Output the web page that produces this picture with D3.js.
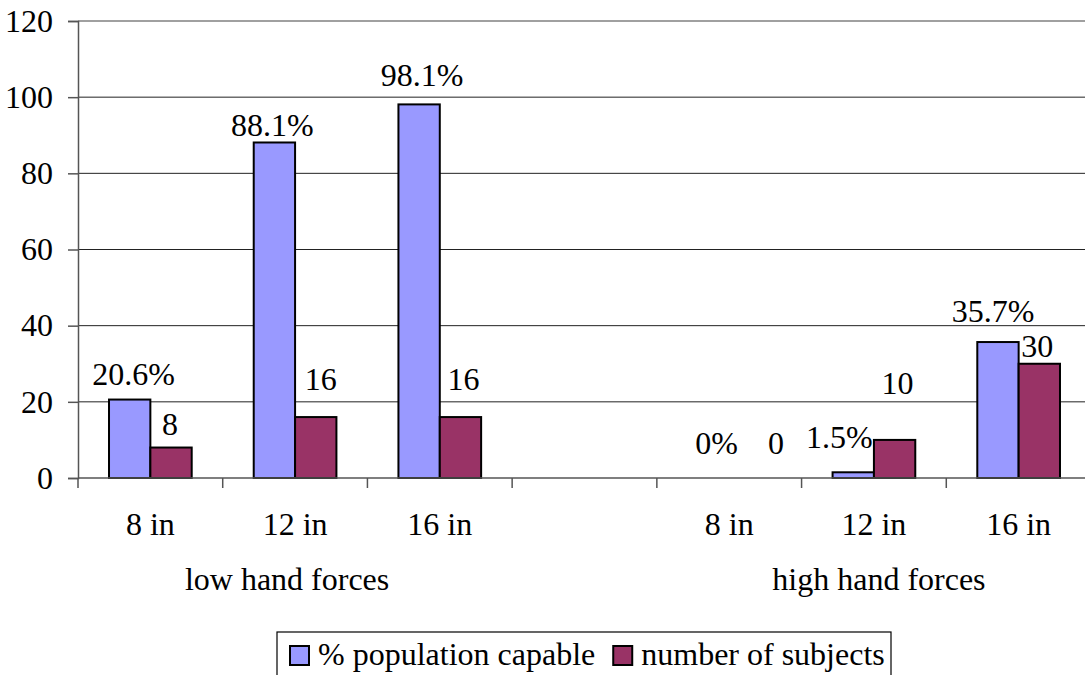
<!DOCTYPE html>
<html>
<head>
<meta charset="utf-8">
<script src="https://cdn.jsdelivr.net/npm/d3@7"></script>
<style>
  html, body { margin: 0; padding: 0; background: #fff; }
  svg { display: block; }
</style>
</head>
<body>
<script>
// ---- data ----
const categories = ["8 in", "12 in", "16 in", "", "8 in", "12 in", "16 in"];
const groupLabels = ["low hand forces", "high hand forces"];
const groupOf = [0, 0, 0, null, 1, 1, 1];
const seriesNames = ["% population capable", "number of subjects"];
const pctCapable = [20.6, 88.1, 98.1, null, 0, 1.5, 35.7];
const numSubjects = [8, 16, 16, null, 0, 10, 30];
const pctLabels = ["20.6%", "88.1%", "98.1%", null, "0%", "1.5%", "35.7%"];
const numLabels = ["8", "16", "16", null, "0", "10", "30"];
const yTicks = [0, 20, 40, 60, 80, 100, 120];

// ---- label nudges (style, px) ----
const pctNudgeX = [4, -2, 3, 0, 8, -14, -5];
const pctGap = [15, 6, 18, 0, 24, 24, 20];
const numNudgeX = [-1, 5, 3, 0, 26, 3, -2];
const numGap = [13, 27, 27, 0, 24, 46, 7];
const groupNudgeX = [-8, 5];

(function () {
const colors = ["#9999FF", "#993366"];
const W = 1085, H = 675;
const mLeft = 78, mRight = 1091, mTop = 21, mBottom = 478;
const fontSize = 32;
const FONT = "Liberation Serif";

const svg = d3.select("body").append("svg").attr("width", W).attr("height", H);

function styleText(sel) {
  return sel.attr("font-family", FONT).attr("font-size", fontSize)
    .style("font-family", FONT).style("font-size", fontSize + "px").attr("fill", "#000");
}

const x = d3.scaleBand().domain(d3.range(categories.length)).range([mLeft, mRight]).padding(0);
const x1 = d3.scaleBand().domain([0, 1]).range([0, x.bandwidth()]).paddingInner(0).paddingOuter(0.75);
const y = d3.scaleLinear().domain([0, 120]).range([mBottom, mTop]);

// gridlines
svg.append("g").selectAll("line").data(yTicks.filter(t => t > 0 && t < 120)).join("line")
  .attr("x1", mLeft).attr("x2", mRight)
  .attr("y1", d => y(d)).attr("y2", d => y(d))
  .attr("stroke", "#222").attr("stroke-width", 1);

// plot border top / right
svg.append("line").attr("x1", mLeft).attr("x2", mRight).attr("y1", y(120)).attr("y2", y(120))
  .attr("stroke", "#808080").attr("stroke-width", 1.5);
svg.append("line").attr("x1", mRight).attr("x2", mRight).attr("y1", y(120)).attr("y2", y(0))
  .attr("stroke", "#808080").attr("stroke-width", 1.5);

// y axis
const yAxis = d3.axisLeft(y).tickValues(yTicks).tickSize(10).tickPadding(15);
const gy = svg.append("g").attr("transform", `translate(${mLeft},0)`).call(yAxis);
gy.attr("font-family", null).attr("font-size", null);
gy.select(".domain").attr("stroke", "#555").attr("stroke-width", 1.5);
gy.selectAll(".tick line").attr("stroke", "#555").attr("stroke-width", 1.5);
styleText(gy.selectAll(".tick text"));

// bars
const seriesVals = [pctCapable, numSubjects];
seriesVals.forEach((vals, s) => {
  svg.append("g").selectAll("rect")
    .data(vals.map((v, i) => ({ v, i })).filter(d => d.v !== null && d.v > 0))
    .join("rect")
    .attr("x", d => x(d.i) + x1(s))
    .attr("width", x1.bandwidth())
    .attr("y", d => y(d.v))
    .attr("height", d => y(0) - y(d.v))
    .attr("fill", colors[s])
    .attr("stroke", "#000").attr("stroke-width", 2);
});

// x axis baseline and ticks
svg.append("line").attr("x1", mLeft).attr("x2", mRight).attr("y1", y(0)).attr("y2", y(0))
  .attr("stroke", "#555").attr("stroke-width", 1.5);
const boundaries = d3.range(categories.length + 1).map(i => mLeft + i * x.step());
svg.append("g").selectAll("line").data(boundaries).join("line")
  .attr("x1", d => d).attr("x2", d => d)
  .attr("y1", y(0)).attr("y2", y(0) + 10)
  .attr("stroke", "#555").attr("stroke-width", 1.5);

// category labels
styleText(svg.append("g").selectAll("text").data(categories).join("text"))
  .attr("x", (d, i) => x(i) + x.bandwidth() / 2)
  .attr("y", 535)
  .attr("text-anchor", "middle")
  .text(d => d);

// group labels
styleText(svg.append("g").selectAll("text").data(groupLabels).join("text"))
  .attr("x", (d, g) => {
    const idx = groupOf.map((v, i) => v === g ? i : null).filter(v => v !== null);
    const x0 = x(d3.min(idx)), xe = x(d3.max(idx)) + x.bandwidth();
    return (x0 + xe) / 2 + groupNudgeX[g];
  })
  .attr("y", 590)
  .attr("text-anchor", "middle")
  .text(d => d);

// value labels
const labelSets = [
  { vals: pctCapable, labels: pctLabels, nx: pctNudgeX, gap: pctGap, s: 0 },
  { vals: numSubjects, labels: numLabels, nx: numNudgeX, gap: numGap, s: 1 }
];
labelSets.forEach(L => {
  styleText(svg.append("g").selectAll("text")
    .data(L.vals.map((v, i) => ({ v, i })).filter(d => d.v !== null))
    .join("text"))
    .attr("x", d => x(d.i) + x1(L.s) + x1.bandwidth() / 2 + L.nx[d.i])
    .attr("y", d => y(d.v) - L.gap[d.i])
    .attr("text-anchor", "middle")
    .text(d => L.labels[d.i]);
});

// legend
const lg = svg.append("g");
lg.append("rect").attr("x", 277).attr("y", 632).attr("width", 614).attr("height", 80)
  .attr("fill", "#fff").attr("stroke", "#000").attr("stroke-width", 1.2);
let cx = 290;
seriesNames.forEach((name, s) => {
  lg.append("rect").attr("x", cx).attr("y", 646).attr("width", 19).attr("height", 19)
    .attr("fill", colors[s]).attr("stroke", "#000").attr("stroke-width", 2);
  const t = styleText(lg.append("text")).attr("x", cx + 28).attr("y", 665).text(name);
  const w = t.node().getComputedTextLength();
  cx = cx + 28 + w + 18;
});
})();
</script>
</body>
</html>
